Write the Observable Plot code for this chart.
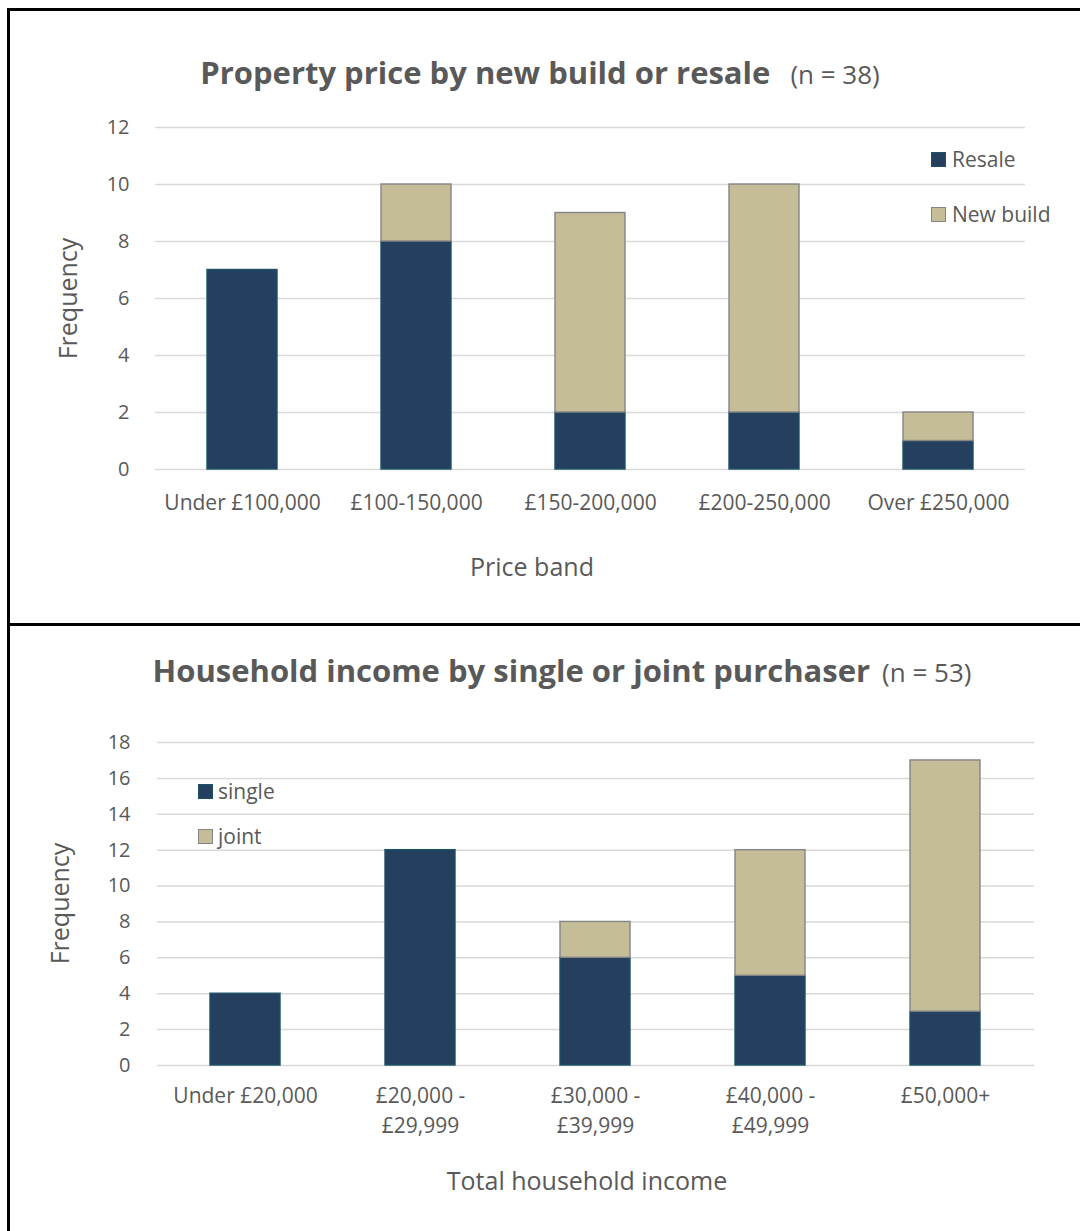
<!DOCTYPE html>
<html>
<head>
<meta charset="utf-8">
<script src="https://cdn.jsdelivr.net/npm/d3@7"></script>
<script src="https://cdn.jsdelivr.net/npm/@observablehq/plot@0.6"></script>
<style>
  body { margin: 0; background: #fff; font-family: "Open Sans", sans-serif; color: #595959; }
  #page { position: relative; width: 1080px; height: 1231px; overflow: hidden; background: #fff; }
  .abs { position: absolute; white-space: nowrap; }
  .sq { position: absolute; box-sizing: border-box; width: 15px; height: 15px; }
</style>
</head>
<body>
<div id="page"></div>
<script>
// ---------- Data: chart 1 ----------
const priceTitle = "Property price by new build or resale";
const priceN = "(n = 38)";
const priceBands = ["Under £100,000", "£100-150,000", "£150-200,000", "£200-250,000", "Over £250,000"];
const priceSeries = ["Resale", "New build"];
const resaleCounts = [7, 8, 2, 2, 1];
const newBuildCounts = [0, 2, 7, 8, 1];
const priceTicks = [0, 2, 4, 6, 8, 10, 12];
const priceXLabel = "Price band";

// ---------- Data: chart 2 ----------
const incomeTitle = "Household income by single or joint purchaser";
const incomeN = "(n = 53)";
const incomeBands = ["Under £20,000", "£20,000 -\n£29,999", "£30,000 -\n£39,999", "£40,000 -\n£49,999", "£50,000+"];
const incomeSeries = ["single", "joint"];
const singleCounts = [4, 12, 6, 5, 3];
const jointCounts = [0, 0, 2, 7, 14];
const incomeTicks = [0, 2, 4, 6, 8, 10, 12, 14, 16, 18];
const incomeXLabel = "Total household income";

const yLabel = "Frequency";

// ---------- Styles ----------
const FILLS = ["#253f5f", "#c4bd97"];
const STROKES = ["#1d5264", "#858585"];
const TEXT = "#595959";

const page = document.getElementById("page");

function makeChart({bands, series, values, ticks, top, height, mL, mR, mT, mB, yPad, xPad}) {
  const rows = [];
  series.forEach((s, si) => bands.forEach((b, i) => {
    if (values[si][i] > 0) rows.push({band: b, series: s, value: values[si][i], si});
  }));
  const svg = Plot.plot({
    width: 1080,
    height,
    marginLeft: mL, marginRight: mR, marginTop: mT, marginBottom: mB,
    style: {fontFamily: "Open Sans", fontSize: "21px", color: TEXT, background: "transparent"},
    x: {domain: bands, paddingInner: 0.6, paddingOuter: 0.3, label: null},
    y: {domain: [0, ticks[ticks.length - 1]], label: null},
    marks: [
      Plot.gridY(ticks, {stroke: "#d9d9d9", strokeOpacity: 1, strokeWidth: 1.5}),
      Plot.barY(rows, Plot.stackY({
        x: "band", y: "value",
        fill: d => FILLS[d.si], stroke: d => STROKES[d.si], strokeWidth: 1.4
      })),
      Plot.axisY(ticks, {tickSize: 0, tickPadding: yPad, fill: TEXT, fontSize: 20, label: null, tickFormat: d => String(d)}),
      Plot.axisX({tickSize: 0, tickPadding: xPad, fill: TEXT, fontSize: 21, label: null, lineHeight: 1.43})
    ]
  });
  svg.style.position = "absolute";
  svg.style.left = "0px";
  svg.style.top = top + "px";
  page.appendChild(svg);
}

// place text so that its baseline is at y (Open Sans: baseline = top + L/2 + 0.388F)
function textAt({text, x, y, size, weight = 400, anchor = "start", width = 1000}) {
  const d = document.createElement("div");
  d.className = "abs";
  d.textContent = text;
  d.style.fontSize = size + "px";
  d.style.lineHeight = size + "px";
  d.style.fontWeight = weight;
  d.style.color = TEXT;
  d.style.top = (y - size / 2 - 0.388 * size) + "px";
  if (anchor === "middle") { d.style.left = (x - width / 2) + "px"; d.style.width = width + "px"; d.style.textAlign = "center"; }
  else d.style.left = x + "px";
  page.appendChild(d);
  return d;
}

function titleAt({title, n, cx, y, gap}) {
  const fs = 31;
  const d = document.createElement("div");
  d.className = "abs";
  d.style.left = (cx - 500) + "px";
  d.style.width = "1000px";
  d.style.textAlign = "center";
  d.style.fontSize = fs + "px";
  d.style.lineHeight = fs + "px";
  d.style.fontWeight = 700;
  d.style.color = TEXT;
  d.style.top = (y - fs / 2 - 0.388 * fs) + "px";
  const a = document.createElement("span");
  a.textContent = title;
  const b = document.createElement("span");
  b.textContent = n;
  b.style.fontSize = "26px";
  b.style.fontWeight = 400;
  b.style.marginLeft = gap + "px";
  d.appendChild(a); d.appendChild(b);
  page.appendChild(d);
}

function yTitle({x, cy, size}) {
  // x = baseline position after rotation (letters extend to the left)
  const d = document.createElement("div");
  d.className = "abs";
  d.textContent = yLabel;
  d.style.fontSize = size + "px";
  d.style.lineHeight = size + "px";
  d.style.color = TEXT;
  d.style.width = "200px";
  d.style.textAlign = "center";
  const cx = x - 0.388 * size;
  d.style.left = (cx - 100) + "px";
  d.style.top = (cy - size / 2) + "px";
  d.style.transform = "rotate(-90deg)";
  page.appendChild(d);
}

function legendItem({label, si, x, y, tx}) {
  const s = document.createElement("div");
  s.className = "sq";
  s.style.left = x + "px";
  s.style.top = y + "px";
  s.style.background = FILLS[si];
  s.style.border = "1.5px solid " + STROKES[si];
  page.appendChild(s);
  textAt({text: label, x: tx, y: y + 15.5, size: 21});
}

// ---------- Chart 1 ----------
makeChart({
  bands: priceBands, series: priceSeries, values: [resaleCounts, newBuildCounts], ticks: priceTicks,
  top: 100, height: 500, mL: 155, mR: 55, mT: 27, mB: 131, yPad: 26, xPad: 19
});
titleAt({title: priceTitle, n: priceN, cx: 540, y: 85, gap: 20});
yTitle({x: 77, cy: 298, size: 25});
textAt({text: priceXLabel, x: 532, y: 576, size: 25, anchor: "middle"});
legendItem({label: priceSeries[0], si: 0, x: 931, y: 152, tx: 952});
legendItem({label: priceSeries[1], si: 1, x: 931, y: 207, tx: 952});

// ---------- Chart 2 ----------
makeChart({
  bands: incomeBands, series: incomeSeries, values: [singleCounts, jointCounts], ticks: incomeTicks,
  top: 700, height: 470, mL: 157, mR: 46, mT: 42, mB: 105, yPad: 27, xPad: 16
});
titleAt({title: incomeTitle, n: incomeN, cx: 562, y: 683, gap: 12});
yTitle({x: 69, cy: 903, size: 25});
textAt({text: incomeXLabel, x: 587, y: 1190, size: 25, anchor: "middle"});
legendItem({label: incomeSeries[0], si: 0, x: 198, y: 784, tx: 218});
legendItem({label: incomeSeries[1], si: 1, x: 198, y: 829, tx: 218});

// ---------- Frame lines ----------
function line(l, t, w, h) {
  const d = document.createElement("div");
  d.style.position = "absolute";
  d.style.left = l + "px"; d.style.top = t + "px";
  d.style.width = w + "px"; d.style.height = h + "px";
  d.style.background = "#000";
  page.appendChild(d);
}
line(7, 8, 1080, 3);
line(7, 8, 3, 1231);
line(7, 623, 1080, 3);
</script>
</body>
</html>
